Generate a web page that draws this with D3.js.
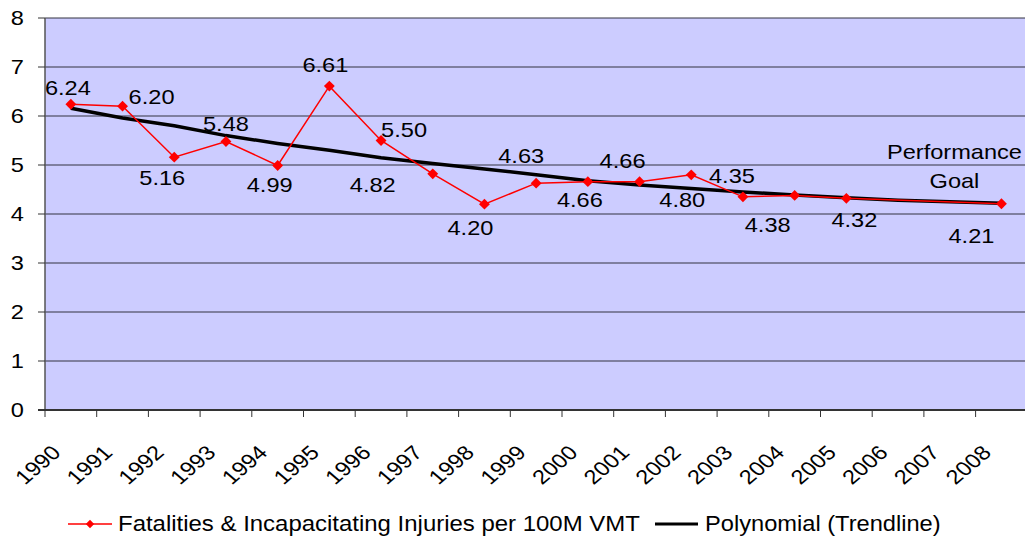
<!DOCTYPE html>
<meta charset="utf-8">
<style>
body { margin: 0; background: #fff; }
text { font-family: "Liberation Sans", Arial, sans-serif; fill: #000; }
</style>
<svg width="1026" height="538"></svg>
<script src="https://d3js.org/d3.v7.min.js"></script>
<script>

var years = ["1990","1991","1992","1993","1994","1995","1996","1997","1998","1999",
             "2000","2001","2002","2003","2004","2005","2006","2007","2008"];
var rate = [6.24, 6.20, 5.16, 5.48, 4.99, 6.61, 5.50, 4.82, 4.20, 4.63,
            4.66, 4.66, 4.80, 4.35, 4.38, 4.32, null, null, 4.21];
var trend = [6.16, 5.96, 5.80, 5.60, 5.44, 5.30, 5.15, 5.03, 4.92, 4.80,
             4.68, 4.59, 4.52, 4.45, 4.39, 4.33, 4.28, 4.25, 4.22];
var yTicks = [0, 1, 2, 3, 4, 5, 6, 7, 8];
var seriesName = "Fatalities & Incapacitating Injuries per 100M VMT";
var trendName = "Polynomial (Trendline)";
var goalText = ["Performance", "Goal"];

// where each data label sits relative to its point (px)
var labelOffset = {
  "1990": [-3, -9], "1991": [29, -2], "1992": [-12, 28], "1993": [0, -10],
  "1994": [-8, 27], "1995": [-4, -14], "1996": [23, -4], "1997": [-60, 18],
  "1998": [-14, 31], "1999": [-15, -20], "2000": [-8, 25], "2001": [-17, -14],
  "2002": [-9, 32], "2003": [-11, -14], "2004": [-27, 37], "2005": [8, 29],
  "2008": [-30, 39]
};

var svg = d3.select("svg");
var plotL = 45, plotR = 1025, plotT = 18, plotB = 410;
var sx = 1.18; // text in the picture runs a little wide

var x = d3.scaleBand().domain(years).range([plotL, plotL + 19 * 51.7]).padding(0);
var y = d3.scaleLinear().domain([0, 8]).range([plotB, plotT]);
var cx = function(yr) { return x(yr) + x.bandwidth() / 2; };

svg.append("rect")
    .attr("x", plotL).attr("y", plotT)
    .attr("width", plotR - plotL).attr("height", plotB - plotT)
    .attr("fill", "#ccccff");

// gridlines
svg.append("g")
  .selectAll("line")
  .data(yTicks.filter(function(d) { return d > 0; }))
  .enter().append("line")
    .attr("x1", plotL).attr("x2", plotR)
    .attr("y1", function(d) { return y(d); })
    .attr("y2", function(d) { return y(d); })
    .attr("stroke", "#333340")
    .attr("stroke-width", 1);

// y axis
var yAxis = svg.append("g");
yAxis.append("line")
    .attr("x1", plotL).attr("x2", plotL).attr("y1", plotT).attr("y2", plotB)
    .attr("stroke", "#555").attr("stroke-width", 1.5);
yAxis.selectAll(".tk").data(yTicks).enter().append("line")
    .attr("x1", 38).attr("x2", plotL)
    .attr("y1", function(d) { return y(d); })
    .attr("y2", function(d) { return y(d); })
    .attr("stroke", "#333");
yAxis.selectAll("text").data(yTicks).enter().append("text")
    .attr("text-anchor", "end")
    .attr("font-size", "20px")
    .attr("transform", function(d) {
      return "translate(24," + (y(d) + 7) + ") scale(" + sx + ",1)";
    })
    .text(function(d) { return d; });

// x axis
var xAxis = svg.append("g");
xAxis.append("line")
    .attr("x1", plotL - 7).attr("x2", plotR).attr("y1", plotB).attr("y2", plotB)
    .attr("stroke", "#333").attr("stroke-width", 2);
xAxis.selectAll(".tk").data(years).enter().append("line")
    .attr("x1", function(d) { return x(d); })
    .attr("x2", function(d) { return x(d); })
    .attr("y1", plotB).attr("y2", plotB + 7)
    .attr("stroke", "#333");
xAxis.selectAll("text").data(years).enter().append("text")
    .attr("text-anchor", "end")
    .attr("font-size", "20px")
    .attr("transform", function(d) {
      return "translate(" + (x(d) + 17) + ",454) scale(" + sx + ",1) rotate(-45)";
    })
    .text(function(d) { return d; });

// trendline
var trendPts = years.map(function(d, i) { return [cx(d), y(trend[i])]; });
svg.append("path")
    .attr("d", d3.line()(trendPts))
    .attr("fill", "none")
    .attr("stroke", "#000")
    .attr("stroke-width", 3.5)
    .attr("stroke-linejoin", "round");

// series
var pts = years.map(function(d, i) { return { year: d, v: rate[i] }; })
    .filter(function(d) { return d.v != null; });

var line = d3.line()
    .x(function(d) { return cx(d.year); })
    .y(function(d) { return y(d.v); });

svg.append("path")
    .attr("d", line(pts))
    .attr("fill", "none")
    .attr("stroke", "#ff0000")
    .attr("stroke-width", 1.5);

var diamond = d3.symbol().type(d3.symbolDiamond2).size(75);

svg.append("g").selectAll("path")
  .data(pts)
  .enter().append("path")
    .attr("d", diamond)
    .attr("transform", function(d) {
      return "translate(" + cx(d.year) + "," + y(d.v) + ")";
    })
    .attr("fill", "#ff0000");

// data labels
svg.append("g").selectAll("text")
  .data(pts)
  .enter().append("text")
    .attr("text-anchor", "middle")
    .attr("font-size", "20px")
    .attr("transform", function(d) {
      var o = labelOffset[d.year];
      return "translate(" + (cx(d.year) + o[0]) + "," + (y(d.v) + o[1]) + ") scale(" + sx + ",1)";
    })
    .text(function(d) { return d.v.toFixed(2); });

// goal note above the last point
var last = pts[pts.length - 1];
svg.append("g").selectAll("text")
  .data(goalText)
  .enter().append("text")
    .attr("text-anchor", "middle")
    .attr("font-size", "20px")
    .attr("transform", function(d, i) {
      var gx = cx(last.year) - 47, gy = y(last.v) - 45 + i * 29;
      return "translate(" + gx + "," + gy + ") scale(" + sx + ",1)";
    })
    .text(function(d) { return d; });

// legend
var lg = svg.append("g");
lg.append("line").attr("x1", 68).attr("x2", 112).attr("y1", 524).attr("y2", 524)
    .attr("stroke", "#ff0000").attr("stroke-width", 1.5);
lg.append("path").attr("d", d3.symbol().type(d3.symbolDiamond2).size(45))
    .attr("transform", "translate(90,524)").attr("fill", "#ff0000");
lg.append("text")
    .attr("font-size", "21.5px")
    .attr("transform", "translate(118,531) scale(1.115,1)")
    .text(seriesName);
lg.append("line").attr("x1", 655).attr("x2", 698).attr("y1", 524).attr("y2", 524)
    .attr("stroke", "#000").attr("stroke-width", 3);
lg.append("text")
    .attr("font-size", "21.5px")
    .attr("transform", "translate(705,531) scale(1.1,1)")
    .text(trendName);

</script>
